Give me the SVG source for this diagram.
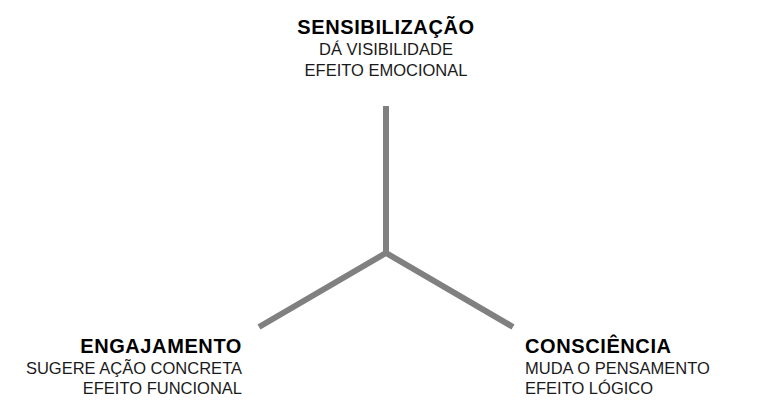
<svg xmlns="http://www.w3.org/2000/svg" width="763" height="410" viewBox="0 0 763 410">
  <style>
    .title { font-family: "Liberation Sans", Arial, sans-serif; font-weight: bold; font-size: 20px; fill: #000; letter-spacing: 0.6px; }
    .sub { font-family: "Liberation Sans", Arial, sans-serif; font-size: 16.5px; fill: #1a1a1a; }
    .conn { stroke: #808080; stroke-width: 6; fill: none; stroke-linecap: butt; stroke-linejoin: miter; }
  </style>
  <rect width="763" height="410" fill="#fff"/>
  <g id="connectors">
    <path class="conn" d="M386,106 L386,253"/>
    <path class="conn" d="M259,327 L386,253 L513,327"/>
  </g>
  <g id="sensibilizacao" text-anchor="middle">
    <text class="title" x="386" y="34">SENSIBILIZAÇÃO</text>
    <text class="sub" x="386" y="55">DÁ VISIBILIDADE</text>
    <text class="sub" x="386" y="76">EFEITO EMOCIONAL</text>
  </g>
  <g id="engajamento" text-anchor="end">
    <text class="title" x="242" y="353">ENGAJAMENTO</text>
    <text class="sub" x="242" y="374">SUGERE AÇÃO CONCRETA</text>
    <text class="sub" x="242" y="394">EFEITO FUNCIONAL</text>
  </g>
  <g id="consciencia" text-anchor="start">
    <text class="title" x="525" y="353">CONSCIÊNCIA</text>
    <text class="sub" x="525" y="374">MUDA O PENSAMENTO</text>
    <text class="sub" x="525" y="394">EFEITO LÓGICO</text>
  </g>
</svg>
